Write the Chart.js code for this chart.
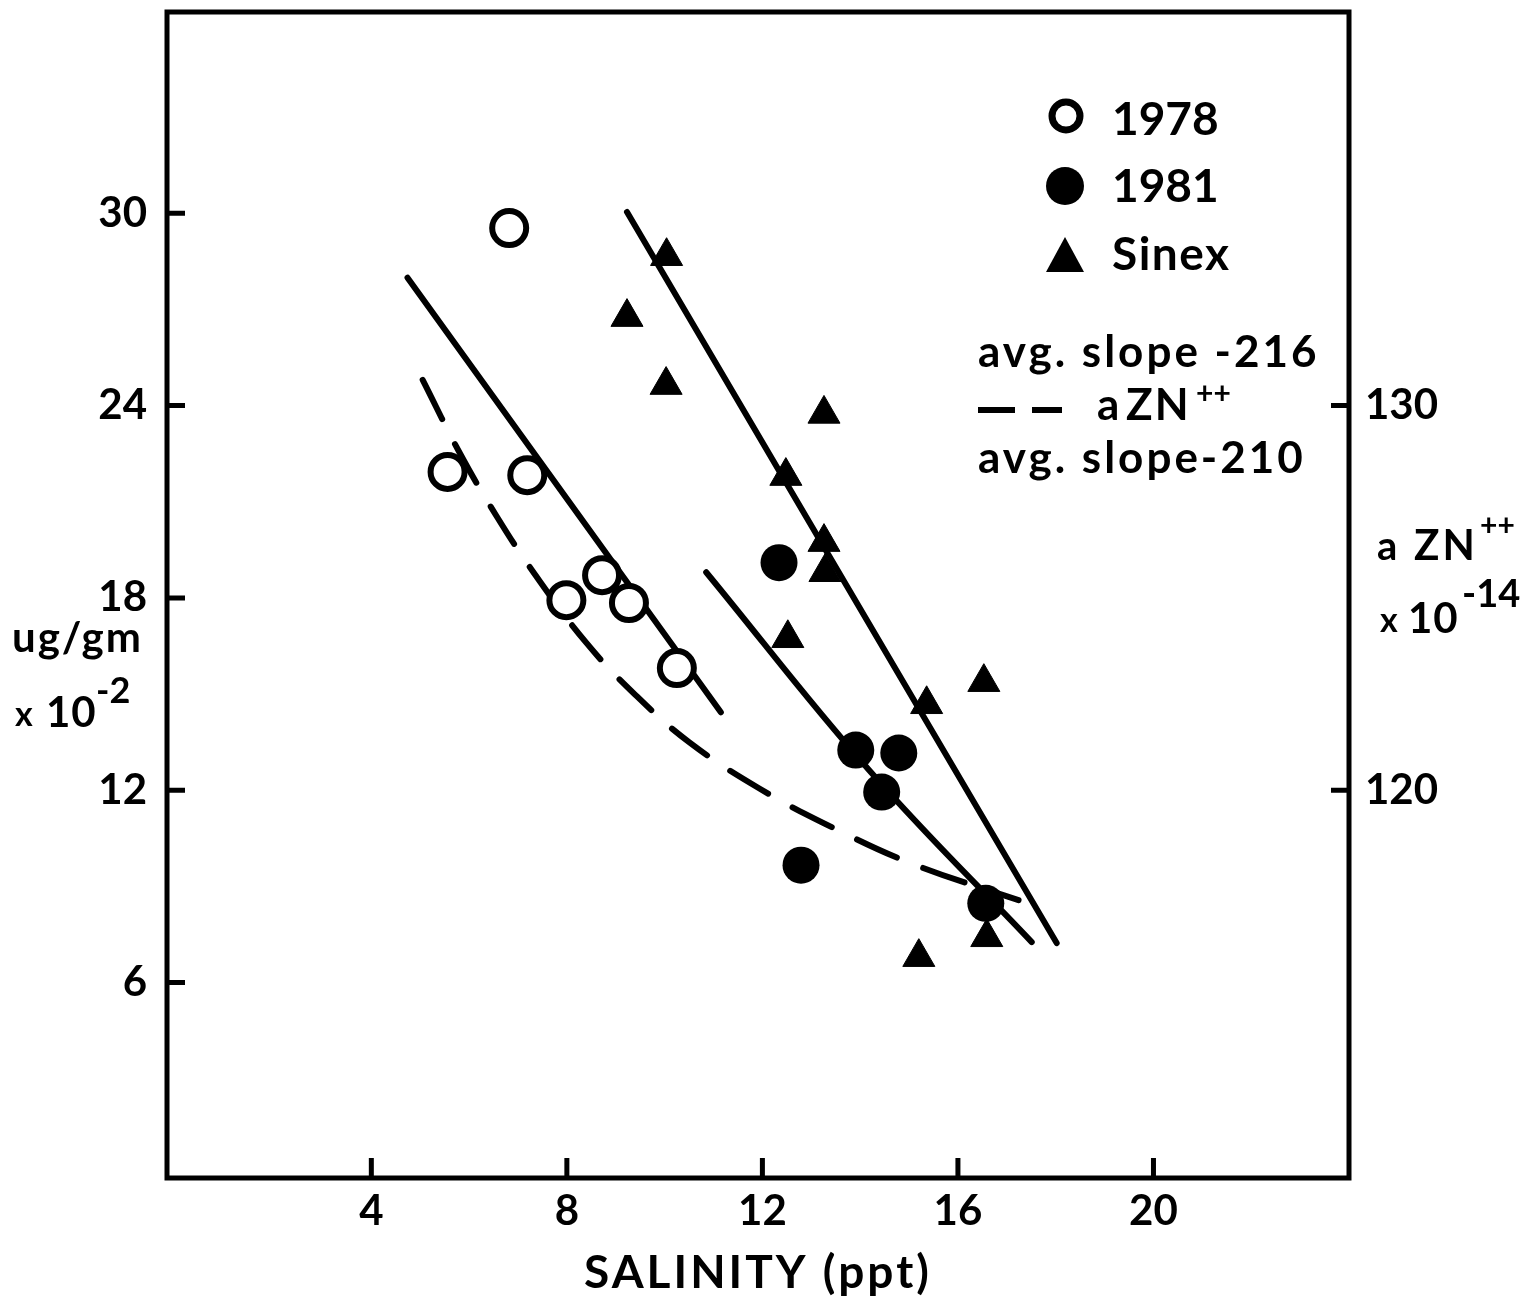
<!DOCTYPE html>
<html>
<head>
<meta charset="utf-8">
<script src="https://cdn.jsdelivr.net/npm/chart.js@4.4.0/dist/chart.umd.min.js"></script>
<style>
html, body { margin: 0; padding: 0; background: #fff; }
canvas { display: block; }
</style>
</head>
<body>
<canvas id="myChart" width="1538" height="1297"></canvas>
<script>
// Zn in sediment vs salinity
var salinity1978 = [6.82, 5.56, 7.19, 8.72, 7.99, 9.27, 10.25];
var zinc1978 = [29.54, 21.93, 21.83, 18.71, 17.93, 17.84, 15.81];

var salinity1981 = [12.34, 13.91, 14.79, 14.44, 12.79, 16.57];
var zinc1981 = [19.1, 13.25, 13.16, 11.94, 9.66, 8.47];

var salinitySinex = [10.04, 9.23, 10.03, 13.26, 12.48, 13.26, 13.28, 12.52, 16.53, 15.36, 16.59, 15.2];
var zincSinex = [28.66, 26.76, 24.64, 23.74, 21.8, 19.74, 18.8, 16.74, 15.37, 14.68, 7.41, 6.79];

// fitted lines
var fit1978X = [4.74, 11.15];
var fit1978Y = [27.99, 14.43];
var fit1981X = [10.85, 14.18, 17.51];
var fit1981Y = [18.8, 12.63, 7.26];
var fitSinexX = [9.23, 18.02];
var fitSinexY = [30.04, 7.23];

// aZN++ curve (right axis)
var aznX = [5.05, 5.82, 6.56, 7.33, 8.40, 9.40, 10.50, 11.93, 13.42, 15.08, 17.24];
var aznY = [130.67, 128.74, 127.13, 125.64, 123.83, 122.48, 121.25, 120.05, 119.04, 118.08, 117.14];

var xTicks = [4, 8, 12, 16, 20];
var yTicks = [6, 12, 18, 24, 30];
var y2Ticks = [120, 130];

var FONT = 'Lato';

function pts(xs, ys) {
  var out = [];
  for (var i = 0; i < xs.length; i++) {
    out.push({ x: xs[i], y: ys[i] });
  }
  return out;
}

function fixedTicks(list) {
  return function (scale) {
    scale.ticks = list.map(function (v) { return { value: v }; });
  };
}

function txt(ctx, s, x, y, size, spacing) {
  ctx.font = 'bold ' + size + 'px ' + FONT;
  ctx.letterSpacing = (spacing || 0) + 'px';
  ctx.fillText(s, x, y);
}

var decorations = {
  id: 'decorations',
  afterDraw: function (chart) {
    var ctx = chart.ctx;
    var a = chart.chartArea;
    var sx = chart.scales.x, sy = chart.scales.y, sy2 = chart.scales.y2;
    ctx.save();
    ctx.strokeStyle = '#000';
    ctx.fillStyle = '#000';
    ctx.lineCap = 'butt';

    // frame
    ctx.lineWidth = 5;
    ctx.strokeRect(a.left, a.top, a.right - a.left, a.bottom - a.top);

    // inward tick marks
    ctx.lineWidth = 5;
    ctx.beginPath();
    xTicks.forEach(function (v) {
      var px = sx.getPixelForValue(v);
      ctx.moveTo(px, a.bottom);
      ctx.lineTo(px, a.bottom - 20);
    });
    yTicks.forEach(function (v) {
      var py = sy.getPixelForValue(v);
      ctx.moveTo(a.left, py);
      ctx.lineTo(a.left + 18, py);
    });
    y2Ticks.forEach(function (v) {
      var py = sy2.getPixelForValue(v);
      ctx.moveTo(a.right, py);
      ctx.lineTo(a.right - 18, py);
    });
    ctx.stroke();

    ctx.textAlign = 'left';
    ctx.textBaseline = 'alphabetic';

    // legend
    ctx.lineWidth = 7;
    ctx.beginPath();
    ctx.arc(1066, 116, 14, 0, Math.PI * 2);
    ctx.stroke();
    txt(ctx, '1978', 1112, 135, 46, 0);

    ctx.beginPath();
    ctx.arc(1065, 186, 19, 0, Math.PI * 2);
    ctx.fill();
    txt(ctx, '1981', 1112, 202, 46, 0);

    ctx.beginPath();
    ctx.moveTo(1065, 237);
    ctx.lineTo(1084, 272);
    ctx.lineTo(1046, 272);
    ctx.closePath();
    ctx.fill();
    txt(ctx, 'Sinex', 1112, 270, 46, 1.5);

    txt(ctx, 'avg. slope -216', 978, 367, 44, 3);
    ctx.lineWidth = 6;
    ctx.beginPath();
    ctx.moveTo(978, 410); ctx.lineTo(1015, 410);
    ctx.moveTo(1032, 410); ctx.lineTo(1062, 410);
    ctx.stroke();
    txt(ctx, 'a', 1097, 420, 44, 0);
    txt(ctx, 'ZN', 1126, 420, 44, 2);
    txt(ctx, '++', 1196, 404, 30, 0);
    txt(ctx, 'avg. slope-210', 978, 473, 44, 3);

    // left axis title
    txt(ctx, 'ug/gm', 12, 652, 42, 2);
    txt(ctx, 'x', 15, 726, 34, 0);
    txt(ctx, '10', 46, 727, 42, 1);
    txt(ctx, '-2', 96, 703, 36, 0);

    // right axis title
    txt(ctx, 'a', 1377, 560, 40, 0);
    txt(ctx, 'ZN', 1414, 560, 42, 3);
    txt(ctx, '++', 1480, 536, 30, 0);
    txt(ctx, 'x', 1380, 632, 34, 0);
    txt(ctx, '10', 1408, 633, 42, 1);
    txt(ctx, '-14', 1462, 607, 38, 0);

    // x axis title
    ctx.textAlign = 'center';
    txt(ctx, 'SALINITY (ppt)', (a.left + a.right) / 2, 1288, 46, 3);

    ctx.restore();
  }
};

var tickFont = { family: FONT, size: 42, weight: 'bold' };

function noPad(s) {
  s.paddingTop = 0;
  s.paddingBottom = 0;
  s.paddingLeft = 0;
  s.paddingRight = 0;
}

var config = {
  type: 'scatter',
  data: {
    datasets: [
      {
        label: '1978',
        data: pts(salinity1978, zinc1978),
        pointStyle: 'circle',
        pointRadius: 17,
        borderWidth: 6,
        borderColor: '#000',
        backgroundColor: '#fff',
        order: 1
      },
      {
        label: '1981',
        data: pts(salinity1981, zinc1981),
        pointStyle: 'circle',
        pointRadius: 18.5,
        borderWidth: 0,
        borderColor: '#000',
        backgroundColor: '#000',
        order: 1
      },
      {
        label: 'Sinex',
        data: pts(salinitySinex, zincSinex),
        pointStyle: 'triangle',
        pointRadius: 18.5,
        borderWidth: 1,
        borderColor: '#000',
        backgroundColor: '#000',
        order: 1
      },
      {
        label: 'fit 1978',
        data: pts(fit1978X, fit1978Y),
        showLine: true,
        pointRadius: 0,
        borderColor: '#000',
        borderWidth: 6,
        borderCapStyle: 'round',
        order: 2
      },
      {
        label: 'fit 1981',
        data: pts(fit1981X, fit1981Y),
        showLine: true,
        pointRadius: 0,
        tension: 0.4,
        borderColor: '#000',
        borderWidth: 6,
        borderCapStyle: 'round',
        order: 2
      },
      {
        label: 'fit Sinex',
        data: pts(fitSinexX, fitSinexY),
        showLine: true,
        pointRadius: 0,
        borderColor: '#000',
        borderWidth: 6,
        borderCapStyle: 'round',
        order: 2
      },
      {
        label: 'aZN++',
        data: pts(aznX, aznY),
        yAxisID: 'y2',
        showLine: true,
        pointRadius: 0,
        tension: 0.4,
        borderColor: '#000',
        borderWidth: 6,
        borderDash: [44, 28],
        borderCapStyle: 'round',
        order: 2
      }
    ]
  },
  options: {
    responsive: false,
    animation: false,
    layout: { autoPadding: false, padding: { top: 12, left: 0, right: 0, bottom: 0 } },
    plugins: {
      legend: { display: false },
      tooltip: { enabled: false }
    },
    scales: {
      x: {
        type: 'linear',
        position: 'bottom',
        min: -0.18,
        max: 24,
        afterBuildTicks: fixedTicks(xTicks),
        afterFit: function (s) { s.height = 119; noPad(s); },
        grid: { display: false, drawTicks: false },
        border: { display: false },
        ticks: { color: '#000', font: tickFont, padding: 8, maxRotation: 0 }
      },
      y: {
        type: 'linear',
        position: 'left',
        min: -0.1,
        max: 36.28,
        afterBuildTicks: fixedTicks(yTicks),
        afterFit: function (s) { s.width = 167; noPad(s); },
        grid: { display: false, drawTicks: false },
        border: { display: false },
        ticks: { color: '#000', font: tickFont, padding: 20 }
      },
      y2: {
        type: 'linear',
        position: 'right',
        min: 110 - 0.1 / 1.2,
        max: 110 + 36.28 / 1.2,
        afterBuildTicks: fixedTicks(y2Ticks),
        afterFit: function (s) { s.width = 189; noPad(s); },
        grid: { display: false, drawTicks: false },
        border: { display: false },
        ticks: { color: '#000', font: tickFont, padding: 16 }
      }
    }
  },
  plugins: [decorations]
};

var ctx = document.getElementById('myChart').getContext('2d');
window.zincChart = new Chart(ctx, config);
</script>
</body>
</html>
